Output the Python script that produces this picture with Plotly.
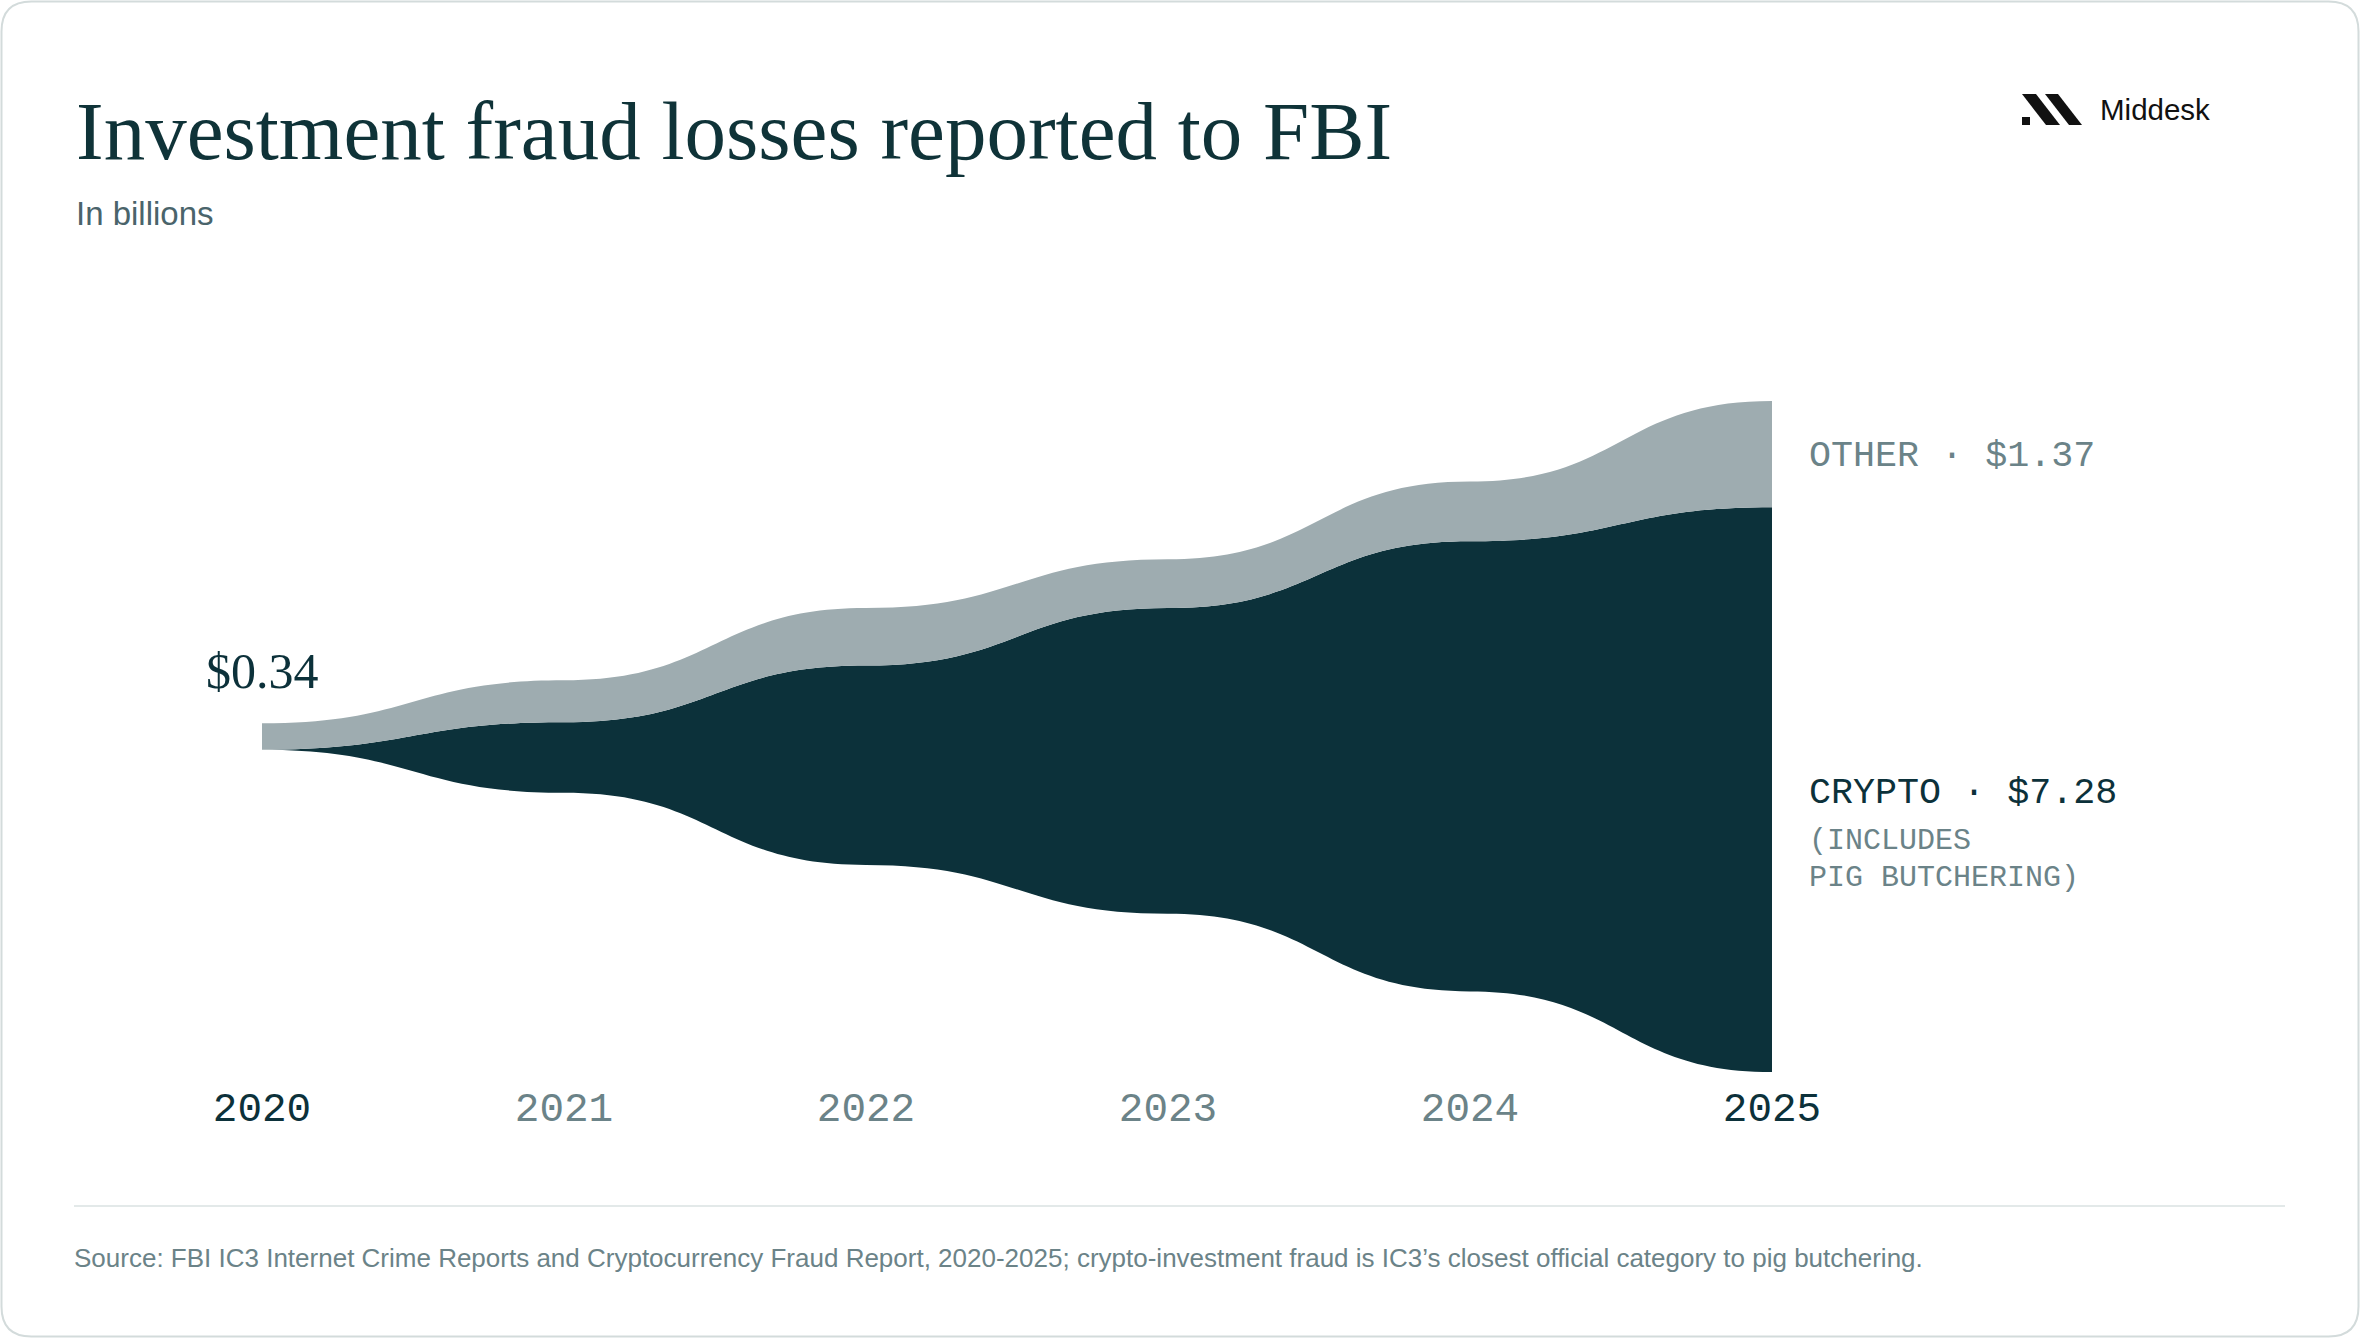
import plotly.graph_objects as go

# ---------------- data ----------------
years = [2020, 2021, 2022, 2023, 2024, 2025]
crypto = [0.0, 0.91, 2.57, 3.94, 5.80, 7.28]
other = [0.34, 0.54, 0.74, 0.63, 0.77, 1.37]
year_labels = ["2020", "2021", "2022", "2023", "2024", "2025"]
highlight_years = [2020, 2025]

TITLE = "Investment fraud losses reported to FBI"
SUBTITLE = "In billions"
SOURCE = ("Source: FBI IC3 Internet Crime Reports and Cryptocurrency Fraud Report, 2020-2025; "
          "crypto-investment fraud is IC3\u2019s closest official category to pig butchering.")

# ---------------- style ----------------
W, H = 2360, 1338
DARK = "#0c313a"
GRAY_FILL = "#9eacb0"
GRAY_TEXT = "#6b8388"
SUB_TEXT = "#4a646b"
SERIF = "Liberation Serif"
SANS = "Liberation Sans"
MONO = "Liberation Mono"

# pixel layout of the scales (margins are zero, so the plot area is the page)
X0_PX, PX_PER_YEAR = 262, 302
CENTER_PX, PX_PER_B = 736.5, 77.6

total = [c + o for c, o in zip(crypto, other)]
bottom = [-t / 2 for t in total]
mid = [b + c for b, c in zip(bottom, crypto)]
top = [t / 2 for t in total]


def bump(xs, ys, start="M"):
    d = f"{start} {xs[0]},{ys[0]}"
    for i in range(1, len(xs)):
        xm = (xs[i - 1] + xs[i]) / 2
        d += f" C {xm},{ys[i - 1]} {xm},{ys[i]} {xs[i]},{ys[i]}"
    return d


def band(lower, upper):
    d = bump(years, lower, "M")
    d += " " + bump(years[::-1], upper[::-1], "L")
    return d + " Z"


def px(x):
    return x / W


def py(y):
    return 1 - y / H


fig = go.Figure()

# hover helpers (transparent) carrying the data
fig.add_trace(go.Scatter(x=years, y=[(b + m) / 2 for b, m in zip(bottom, mid)], mode="markers",
                         marker=dict(size=1, opacity=0), customdata=crypto, name="Crypto",
                         hovertemplate="Crypto %{x}: $%{customdata:.2f}B<extra></extra>", showlegend=False))
fig.add_trace(go.Scatter(x=years, y=[(m + t) / 2 for m, t in zip(mid, top)], mode="markers",
                         marker=dict(size=1, opacity=0), customdata=other, name="Other",
                         hovertemplate="Other %{x}: $%{customdata:.2f}B<extra></extra>", showlegend=False))

shapes = []
# stream bands
shapes.append(dict(type="path", xref="x", yref="y", path=band(bottom, mid),
                   fillcolor=DARK, line=dict(width=0), layer="below"))
shapes.append(dict(type="path", xref="x", yref="y", path=band(mid, top),
                   fillcolor=GRAY_FILL, line=dict(width=0), layer="below"))

# card border (rounded)
r = 30
x1, y1, x2, y2 = 1.5, 1.5, W - 1.5, H - 1.5
pts = [
    ("M", (x1 + r, y1)), ("L", (x2 - r, y1)), ("Q", (x2, y1, x2, y1 + r)),
    ("L", (x2, y2 - r)), ("Q", (x2, y2, x2 - r, y2)), ("L", (x1 + r, y2)),
    ("Q", (x1, y2, x1, y2 - r)), ("L", (x1, y1 + r)), ("Q", (x1, y1, x1 + r, y1)),
]
path = ""
for cmd, c in pts:
    if cmd == "Q":
        path += f"Q {px(c[0])},{py(c[1])} {px(c[2])},{py(c[3])} "
    else:
        path += f"{cmd} {px(c[0])},{py(c[1])} "
path += "Z"
shapes.append(dict(type="path", xref="paper", yref="paper", path=path,
                   line=dict(color="#d3dbdb", width=2), fillcolor="rgba(0,0,0,0)"))

# footer separator
shapes.append(dict(type="line", xref="paper", yref="paper", x0=px(74), x1=px(2285),
                   y0=py(1206), y1=py(1206), line=dict(color="#e3e9e9", width=2)))

# logo
logo_polys = [
    [(2022, 117), (2030, 117), (2030, 125), (2022, 125)],
    [(2022, 94), (2036, 94), (2060, 125), (2046, 125)],
    [(2045, 94), (2058, 94), (2082, 125), (2069, 125)],
]
for poly in logo_polys:
    d = "M " + " L ".join(f"{px(a)},{py(b)}" for a, b in poly) + " Z"
    shapes.append(dict(type="path", xref="paper", yref="paper", path=d,
                       fillcolor="#111111", line=dict(width=0)))

annotations = []


def ann(text, xp, yp, size, color, family, xanchor="left"):
    annotations.append(dict(text=text, x=px(xp), y=py(yp), xref="paper", yref="paper",
                            xanchor=xanchor, yanchor="middle", showarrow=False,
                            font=dict(size=size, color=color, family=family)))


ann(TITLE, 74, 131, 83, "#0f3338", SERIF)
ann(SUBTITLE, 74, 214, 33, SUB_TEXT, SANS)
ann(SOURCE, 72, 1258, 26, GRAY_TEXT, SANS)
ann("Middesk", 2098, 110, 29.5, "#111111", SANS)

# start value label
annotations.append(dict(text=f"${total[0]:.2f}", x=years[0], y=top[0], xref="x", yref="y",
                        xanchor="center", yanchor="middle", yshift=52, showarrow=False,
                        font=dict(size=50, color=DARK, family=SERIF)))
# end labels
annotations.append(dict(text=f"OTHER \u00b7 ${other[-1]:.2f}", x=years[-1], y=(mid[-1] + top[-1]) / 2,
                        xref="x", yref="y", xanchor="left", yanchor="middle", xshift=35, yshift=-2,
                        showarrow=False, font=dict(size=36.7, color=GRAY_TEXT, family=MONO)))
annotations.append(dict(text=f"CRYPTO \u00b7 ${crypto[-1]:.2f}", x=years[-1], y=(bottom[-1] + mid[-1]) / 2,
                        xref="x", yref="y", xanchor="left", yanchor="middle", xshift=35, yshift=-3,
                        showarrow=False, font=dict(size=36.7, color=DARK, family=MONO)))
for txt, dy in [("(INCLUDES", -51), ("PIG BUTCHERING)", -88)]:
    annotations.append(dict(text=txt, x=years[-1], y=(bottom[-1] + mid[-1]) / 2,
                            xref="x", yref="y", xanchor="left", yanchor="middle", xshift=35, yshift=dy,
                            showarrow=False, font=dict(size=30, color=GRAY_TEXT, family=MONO)))

ticktext = [f'<span style="color:{DARK if y in highlight_years else GRAY_TEXT}">{lab}</span>'
            for y, lab in zip(years, year_labels)]

fig.update_layout(
    width=W, height=H,
    margin=dict(l=0, r=0, t=0, b=0, pad=0),
    paper_bgcolor="white", plot_bgcolor="white",
    showlegend=False,
    shapes=shapes, annotations=annotations,
    xaxis=dict(range=[years[0] - X0_PX / PX_PER_YEAR, years[0] + (W - X0_PX) / PX_PER_YEAR],
               tickvals=years, ticktext=ticktext, anchor="free", position=py(1079),
               showgrid=False, zeroline=False, showline=False, ticks="",
               tickfont=dict(size=41, color=GRAY_TEXT, family=MONO), fixedrange=True),
    yaxis=dict(range=[-(H - CENTER_PX) / PX_PER_B, CENTER_PX / PX_PER_B], visible=False,
               showgrid=False, zeroline=False, fixedrange=True),
    hoverlabel=dict(font=dict(family=SANS)),
)

fig.write_html("out.html", config={"displayModeBar": False},
               post_script="document.body.style.margin='0';document.body.style.overflow='hidden';")
